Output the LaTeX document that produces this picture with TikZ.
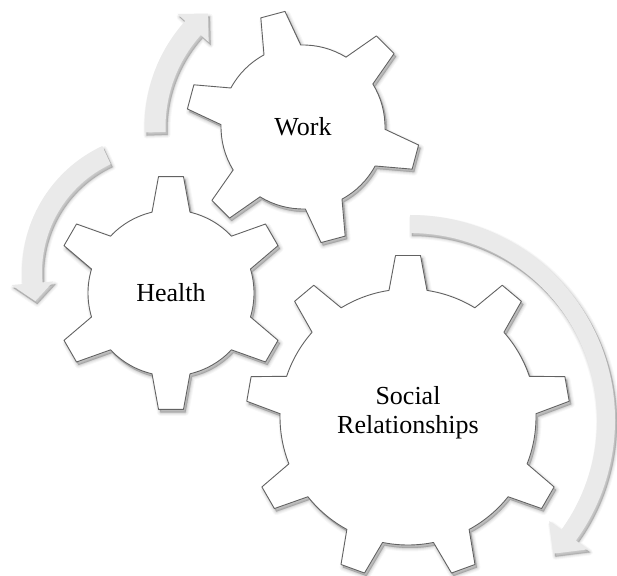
\documentclass[tikz,border=0pt]{standalone}
\usepackage{fontspec}
\setmainfont{Liberation Serif}
\definecolor{gearline}{HTML}{626262}
\definecolor{arrowfill}{HTML}{EAEAEA}
\newcommand\drawgear[6]{% cx cy n a0 r R
  \pgfmathsetmacro\gstep{360/#3}%
  \pgfmathsetmacro\gdb{asin(19/#5)}%
  \pgfmathsetmacro\gdt{asin(12.5/#6)}%
  \begin{scope}[shift={(#1,#2)}]
    \foreach \lw/\op in {7/0.03,5/0.04,3/0.06,1/0.09}{
      \filldraw[black, opacity=\op, line width=\lw pt, line join=round, shift={(2,-3)}]
        ({#4-\gdb}:#5) \foreach \k in {1,...,#3}{ -- ({#4+(\k-1)*\gstep-\gdt}:#6) -- ({#4+(\k-1)*\gstep+\gdt}:#6) -- ({#4+(\k-1)*\gstep+\gdb}:#5) arc[start angle={#4+(\k-1)*\gstep+\gdb}, end angle={#4+\k*\gstep-\gdb}, radius=#5]} -- cycle;
    }
    \filldraw[fill=white, draw=gearline, line width=0.9pt, line join=round]
        ({#4-\gdb}:#5) \foreach \k in {1,...,#3}{ -- ({#4+(\k-1)*\gstep-\gdt}:#6) -- ({#4+(\k-1)*\gstep+\gdt}:#6) -- ({#4+(\k-1)*\gstep+\gdb}:#5) arc[start angle={#4+(\k-1)*\gstep+\gdb}, end angle={#4+\k*\gstep-\gdb}, radius=#5]} -- cycle;
  \end{scope}}
\newcommand\drawarrow[8]{% cx cy rc s e w hw t
  \pgfmathsetmacro\ro{#3+#6/2}%
  \pgfmathsetmacro\ri{#3-#6/2}%
  \pgfmathsetmacro\ho{#3+#7/2}%
  \pgfmathsetmacro\hi{#3-#7/2}%
  \begin{scope}[shift={(#1,#2)}]
    \foreach \lw/\op in {6/0.03,4/0.04,2/0.06,0.5/0.08}{
      \filldraw[black, opacity=\op, line width=\lw pt, line join=round, shift={(2,-3)}]
        (#4:\ro) arc[start angle=#4, end angle=#5, radius=\ro] -- (#5:\ho) -- (#8:#3) -- (#5:\hi) -- (#5:\ri) arc[start angle=#5, end angle=#4, radius=\ri] -- cycle;
    }
    \fill[arrowfill]
        (#4:\ro) arc[start angle=#4, end angle=#5, radius=\ro] -- (#5:\ho) -- (#8:#3) -- (#5:\hi) -- (#5:\ri) arc[start angle=#5, end angle=#4, radius=\ri] -- cycle;
  \end{scope}}
\tikzset{gearlabel/.style={font=\fontsize{26}{29}\selectfont, align=center, text=black}}
\begin{document}
\begin{tikzpicture}[x=1pt,y=1pt]
\useasboundingbox (0,0) rectangle (617,575);
% arrows
\drawarrow{303}{448}{148}{182}{138}{21}{42}{130}
\drawarrow{161}{303}{129}{115}{185}{20}{42}{193}
\drawarrow{410}{155}{196}{90}{-36}{18}{48}{-43}
% gears
\drawgear{303}{448}{6}{105}{82}{117}
\drawgear{171}{282}{6}{90}{83}{117}
\drawgear{408}{158}{9}{90}{128}{162}
% labels
\node[gearlabel] (work) at (303,448) {Work};
\node[gearlabel] (health) at (171,282) {Health};
\node[gearlabel] (social) at (408,162) {Social\\Relationships};
\end{tikzpicture}
\end{document}
